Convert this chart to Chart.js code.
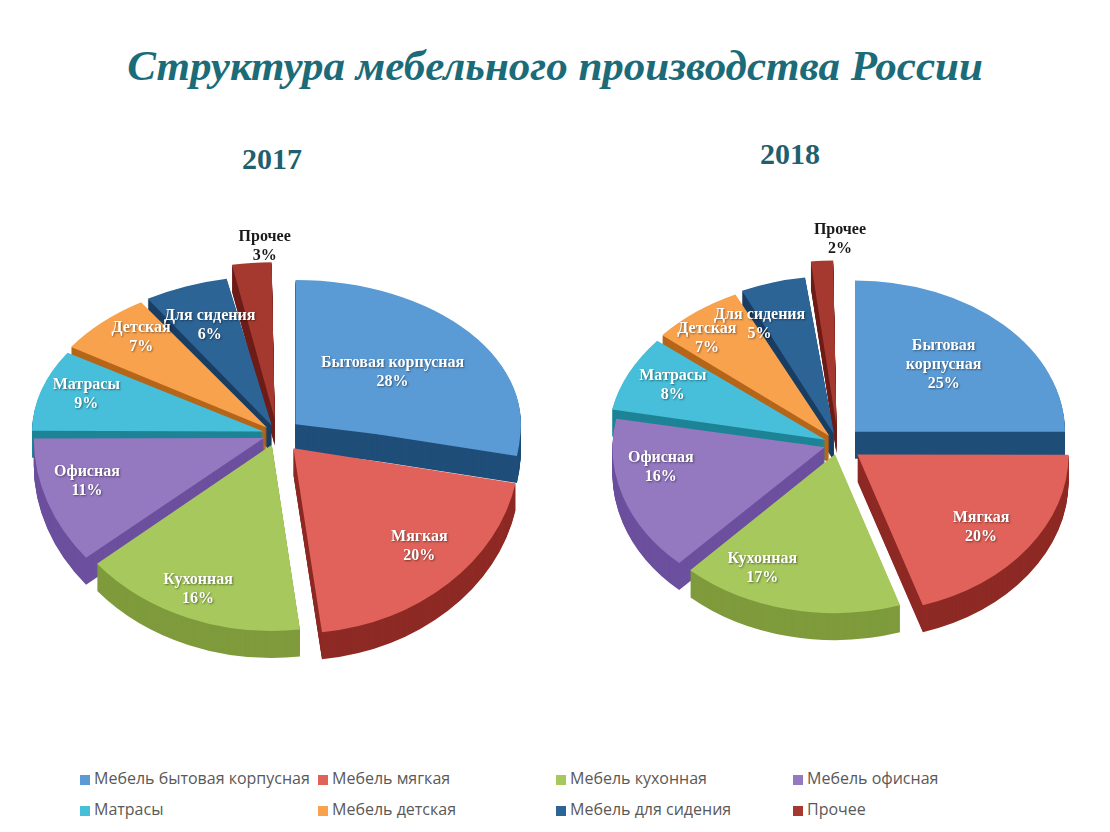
<!DOCTYPE html>
<html lang="ru">
<head>
<meta charset="utf-8">
<title>Структура мебельного производства России</title>
<script src="https://cdn.jsdelivr.net/npm/chart.js@4.4.1/dist/chart.umd.min.js"></script>
<style>
  html, body { margin: 0; padding: 0; background: #fff; }
  body { width: 1110px; height: 832px; position: relative; overflow: hidden; }
  .title {
    position: absolute; left: 0; top: 41px; width: 1110px; text-align: center;
    font: italic bold 43px "Liberation Serif", "DejaVu Serif", serif; color: #1b6b78;
  }
  .year {
    position: absolute; width: 140px; text-align: center;
    font: bold 30px "Liberation Serif", serif; color: #1f5f6e;
  }
  .pie { position: absolute; }
  .legend-item {
    position: absolute; font: 16px "Open Sans", sans-serif; color: #595959;
    white-space: nowrap; line-height: 20px;
  }
  .legend-item i {
    display: inline-block; width: 10px; height: 10px; margin-right: 4px; vertical-align: -1px;
  }
</style>
</head>
<body>
<div class="title">Структура мебельного производства России</div>
<div class="year" style="left:202px; top:142px;">2017</div>
<div class="year" style="left:720px; top:137px;">2018</div>
<div class="pie" style="left:0px; top:174px; width:554px; height:520px;"><canvas id="pie2017"></canvas></div>
<div class="pie" style="left:572px; top:184px; width:532px; height:520px;"><canvas id="pie2018"></canvas></div>
<div id="legend"></div>
<script>
// Data
const categories = ['Бытовая корпусная', 'Мягкая', 'Кухонная', 'Офисная', 'Матрасы', 'Детская', 'Для сидения', 'Прочее'];
const sliceLabels2018 = ['Бытовая\nкорпусная', 'Мягкая', 'Кухонная', 'Офисная', 'Матрасы', 'Детская', 'Для сидения', 'Прочее'];
const legendLabels = ['Мебель бытовая корпусная', 'Мебель мягкая', 'Мебель кухонная', 'Мебель офисная',
                      'Матрасы', 'Мебель детская', 'Мебель для сидения', 'Прочее'];
const values2017 = [28, 20, 16, 11, 9, 7, 6, 3];
const values2018 = [25, 20, 17, 16, 8, 7, 5, 2];

const faceColors = ['#5b9bd5', '#e0625a', '#a6c85d', '#9478c0', '#47bfda', '#f8a24e', '#2c6496', '#a5392f'];
const sideColors = ['#1f4e79', '#8e2a25', '#7f9b3c', '#6c509e', '#1d8496', '#b5661a', '#1b3e63', '#6e1e19'];
const sliceOffsets = [96, 96, 56, 56, 56, 56, 56, 96];

// label placement: fraction of radius, and turn (degrees) from slice middle
const labelRadius2017 = [0.56, 0.77, 0.85, 0.82, 0.83, 0.84, 0.75, 1.2];
const labelTurn2017 = [0, -3, 1, 3, 2, 3, 0, 3];
const labelRadius2018 = [0.61, 0.75, 0.8, 0.79, 0.81, 0.87, 0.81, 1.24];
const labelTurn2018 = [-1, 2, 12, 8, 1, -4, -9, 4];

function squash(ctx, cy, k) {
    ctx.translate(0, cy);
    ctx.scale(1, k);
    ctx.translate(0, -cy);
}

// draw one arc element flattened: back half squashed more than the front half (fake perspective)
function drawFlat(ctx, el, cy, kTop, kBot, dy) {
    [[kTop, -1e4, cy + dy + 0.5], [kBot, cy + dy - 0.5, 1e4]].forEach(([k, y0, y1]) => {
        ctx.save();
        ctx.beginPath();
        ctx.rect(-1e4, y0, 2e4, y1 - y0);
        ctx.clip();
        ctx.translate(0, dy);
        squash(ctx, cy, k);
        el.draw(ctx);
        ctx.restore();
    });
}

const pie3d = {
    id: 'pie3d',
    beforeDatasetsDraw(chart, args, opts) {
        const ctx = chart.ctx;
        const arcs = chart.getDatasetMeta(0).data;
        const cy = arcs[0].y;
        const midY = a => Math.sin((a.startAngle + a.endAngle) / 2);
        const order = arcs.map((a, i) => i).sort((a, b) => midY(arcs[a]) - midY(arcs[b]));
        // side walls
        order.forEach(i => {
            const ghost = Object.create(arcs[i]);
            ghost.options = Object.assign({}, arcs[i].options, { backgroundColor: opts.sideColors[i], borderWidth: 0 });
            for (let d = opts.depth; d >= 1; d--) {
                drawFlat(ctx, ghost, cy, opts.kTop, opts.kBot, d);
            }
        });
        // top faces
        arcs.forEach(arc => drawFlat(ctx, arc, cy, opts.kTop, opts.kBot, 0));
        return false;
    },
    afterDraw(chart, args, opts) {
        const ctx = chart.ctx;
        const arcs = chart.getDatasetMeta(0).data;
        const values = chart.data.datasets[0].data;
        const cy = arcs[0].y;
        ctx.save();
        ctx.font = 'bold 16px "Liberation Serif", serif';
        ctx.textAlign = 'center';
        ctx.textBaseline = 'middle';
        arcs.forEach((arc, i) => {
            const ang = (arc.startAngle + arc.endAngle) / 2 + opts.labelTurn[i] * Math.PI / 180;
            const dist = arc.outerRadius * opts.labelRadius[i] + (arc.options.offset || 0) / 4;
            const x = arc.x + Math.cos(ang) * dist;
            const yFlat = Math.sin(ang) * dist;
            const y = cy + yFlat * (yFlat < 0 ? opts.kTop : opts.kBot);
            const lines = chart.data.labels[i].split('\n').concat([values[i] + '%']);
            const outside = opts.labelRadius[i] > 1;
            ctx.fillStyle = outside ? '#1a1a1a' : '#ffffff';
            ctx.shadowColor = outside ? 'transparent' : 'rgba(0,0,0,0.45)';
            ctx.shadowBlur = 2;
            ctx.shadowOffsetX = 1;
            ctx.shadowOffsetY = 1;
            const lh = 19;
            lines.forEach((t, j) => {
                ctx.fillText(t, x, y + (j - (lines.length - 1) / 2) * lh);
            });
        });
        ctx.restore();
    }
};

function makePie(id, labels, values, radius, view) {
    return new Chart(document.getElementById(id), {
        type: 'pie',
        data: {
            labels: labels,
            datasets: [{
                data: values,
                backgroundColor: faceColors,
                borderWidth: 0,
                offset: sliceOffsets
            }]
        },
        options: {
            responsive: true,
            maintainAspectRatio: false,
            animation: false,
            radius: radius,
            layout: { padding: 0 },
            events: [],
            plugins: {
                legend: { display: false },
                tooltip: { enabled: false },
                pie3d: Object.assign({ sideColors: sideColors }, view)
            }
        },
        plugins: [pie3d]
    });
}

makePie('pie2017', categories, values2017, 225,
    { depth: 27, kTop: 0.64, kBot: 0.82, labelRadius: labelRadius2017, labelTurn: labelTurn2017 });
makePie('pie2018', sliceLabels2018, values2018, 210,
    { depth: 27, kTop: 0.72, kBot: 0.75, labelRadius: labelRadius2018, labelTurn: labelTurn2018 });

// HTML legend, 4 columns x 2 rows
const legendCols = [80, 318, 556, 793];
const legendRows = [768, 799];
const legend = document.getElementById('legend');
legendLabels.forEach((name, i) => {
    const item = document.createElement('div');
    item.className = 'legend-item';
    item.style.left = legendCols[i % 4] + 'px';
    item.style.top = legendRows[Math.floor(i / 4)] + 'px';
    item.innerHTML = '<i style="background:' + faceColors[i] + '"></i>' + name;
    legend.appendChild(item);
});
</script>
</body>
</html>
